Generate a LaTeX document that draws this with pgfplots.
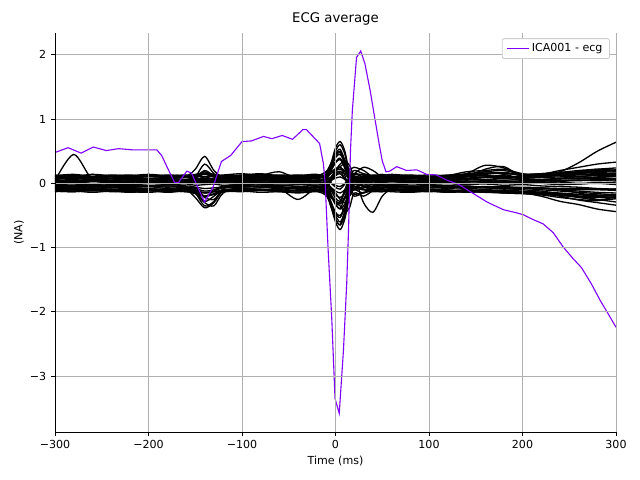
\documentclass[border=0pt]{standalone}
\usepackage{fontspec}
\setmainfont{DejaVu Sans}
\usepackage{pgfplots}
\usepackage{pgfplotstable}
\pgfplotsset{compat=1.18}
\definecolor{ecg}{HTML}{8000FF}
\definecolor{gridc}{HTML}{B0B0B0}
\definecolor{legc}{HTML}{CCCCCC}

\pgfplotstableread{
t c1 c2 c3 c4 c5 c6 c7 c8 c9 c10 c11 c12 c13 c14 c15 c16 c17 c18 c19 c20
-300 0.04 -0.08 0.1 -0.05 0.03 -0.1 0.07 -0.03 0.0 0.12 -0.12 0.06 -0.07 0.02 0.09 -0.02 0.04 -0.09 0.01 -0.04
-280 0.45 -0.1 0.12 -0.06 0.05 -0.12 0.09 -0.05 0.02 0.14 -0.13 0.04 -0.06 0.01 0.1 -0.01 0.03 -0.08 0.03 -0.03
-260 0.06 -0.07 0.09 -0.04 0.14 -0.1 0.06 -0.02 -0.01 0.11 -0.11 0.07 -0.08 0.03 0.08 -0.03 0.05 -0.1 0.0 -0.05
-240 0.05 -0.09 0.11 -0.06 0.04 -0.11 0.08 -0.04 0.01 0.13 -0.12 0.05 -0.06 0.02 0.1 -0.02 0.04 -0.09 0.02 -0.04
-220 0.08 -0.08 0.1 -0.05 0.02 -0.09 0.1 -0.03 0.0 0.12 -0.14 0.06 -0.07 0.04 0.09 -0.01 0.03 -0.11 0.01 -0.03
-200 0.05 -0.1 0.12 -0.04 0.04 -0.11 0.07 -0.05 0.02 0.14 -0.12 0.04 -0.08 0.02 0.11 -0.03 0.05 -0.09 0.0 -0.05
-180 0.06 -0.09 0.1 -0.06 0.03 -0.13 0.08 -0.02 -0.01 0.12 -0.11 0.07 -0.1 0.01 0.09 -0.02 0.04 -0.12 0.02 -0.04
-160 0.04 -0.1 0.11 -0.05 0.05 -0.1 0.06 -0.04 0.01 0.13 -0.13 0.05 -0.07 0.03 0.1 -0.01 0.03 -0.08 0.01 -0.06
-150 0.05 -0.22 0.22 -0.15 0.1 -0.12 0.08 -0.06 0.0 0.12 -0.12 0.06 -0.06 0.02 0.09 -0.03 0.05 -0.1 0.03 -0.15
-140 0.06 -0.38 0.42 -0.3 0.3 -0.28 0.15 -0.2 0.05 0.14 -0.15 0.04 -0.08 0.03 0.2 -0.02 0.1 -0.22 0.0 -0.35
-130 0.05 -0.3 0.2 -0.35 0.15 -0.2 0.1 -0.12 0.02 0.12 -0.13 0.06 -0.07 0.01 0.12 -0.01 0.06 -0.25 0.02 -0.28
-120 0.07 -0.12 0.1 -0.15 0.04 -0.1 0.07 -0.04 0.0 0.13 -0.12 0.05 -0.06 0.02 0.09 -0.03 0.04 -0.12 0.01 -0.08
-100 0.05 -0.08 0.12 -0.05 0.06 -0.11 0.1 -0.03 0.01 0.15 -0.13 0.07 -0.08 0.03 0.08 -0.02 0.03 -0.09 0.0 -0.05
-80 0.06 -0.1 0.1 -0.06 0.12 -0.09 0.14 -0.05 -0.01 0.12 -0.11 0.05 -0.07 0.02 0.1 -0.01 0.05 -0.1 0.02 -0.04
-60 0.04 -0.09 0.11 -0.08 0.18 -0.12 0.08 -0.04 0.02 0.13 -0.12 0.06 -0.06 0.01 0.09 -0.03 0.04 -0.08 0.01 -0.03
-40 0.06 -0.08 0.1 -0.25 0.06 -0.1 0.07 -0.02 0.0 0.12 -0.14 0.05 -0.08 0.03 0.11 -0.02 0.03 -0.12 0.0 -0.05
-20 0.05 -0.1 0.12 -0.06 0.03 -0.11 0.09 -0.04 0.01 0.14 -0.12 0.07 -0.07 0.02 0.09 -0.01 0.05 -0.09 0.02 -0.04
-10 0.1 -0.15 0.18 -0.1 0.08 -0.14 0.12 -0.06 0.02 0.05 -0.08 0.03 -0.05 0.0 0.1 -0.03 0.06 -0.12 0.08 -0.1
-5 0.3 -0.35 0.3 -0.3 0.22 -0.28 0.2 -0.18 0.08 -0.15 0.05 -0.08 0.03 -0.06 0.15 -0.08 0.1 -0.2 0.25 -0.32
0 0.55 -0.6 0.45 -0.5 0.4 -0.45 0.32 -0.32 0.18 -0.32 0.2 -0.18 0.12 -0.12 0.2 -0.15 0.2 -0.3 0.5 -0.55
5 0.65 -0.72 0.5 -0.6 0.45 -0.5 0.38 -0.4 0.26 -0.28 0.25 -0.22 0.18 -0.15 0.22 -0.25 0.3 -0.35 0.6 -0.65
10 0.5 -0.55 0.35 -0.45 0.3 -0.35 0.3 -0.32 0.3 -0.1 0.12 -0.15 0.15 -0.1 0.18 -0.3 0.35 -0.45 0.45 -0.5
15 0.15 -0.2 0.1 -0.15 0.05 -0.05 0.22 -0.2 0.2 0.1 -0.1 0.0 0.05 -0.02 0.12 -0.15 0.28 -0.38 0.12 -0.18
20 -0.05 0.05 0.05 0.05 -0.1 0.1 0.25 -0.1 0.08 0.2 -0.2 0.1 -0.05 0.05 0.15 -0.02 0.12 -0.15 -0.08 0.0
30 0.02 0.0 0.12 -0.05 0.05 -0.3 0.2 -0.15 0.15 0.15 -0.15 0.08 -0.1 0.06 0.25 0.05 0.02 -0.2 0.0 -0.05
40 0.08 -0.06 0.1 -0.1 0.08 -0.45 0.1 -0.06 0.05 0.12 -0.12 0.06 -0.08 0.03 0.2 -0.01 0.04 -0.12 0.02 -0.04
50 0.05 -0.08 0.08 -0.06 0.04 -0.2 0.08 -0.04 0.02 0.14 -0.13 0.05 -0.07 0.02 0.1 -0.02 0.05 -0.1 0.01 -0.03
60 0.06 -0.1 0.1 -0.05 0.03 -0.1 0.07 -0.03 0.0 0.12 -0.11 0.07 -0.06 0.03 0.09 -0.03 0.04 -0.09 0.0 -0.05
80 0.04 -0.08 0.11 -0.04 0.05 -0.11 0.09 -0.05 0.01 0.13 -0.12 0.05 -0.08 0.01 0.1 -0.01 0.03 -0.1 0.02 -0.04
100 0.06 -0.09 0.09 -0.06 0.02 -0.1 0.07 -0.03 -0.01 0.11 -0.13 0.06 -0.07 0.02 0.08 -0.02 0.05 -0.09 0.01 -0.06
120 0.05 -0.1 0.1 -0.05 0.04 -0.12 0.08 -0.04 0.02 0.13 -0.12 0.04 -0.06 0.03 0.12 -0.03 0.04 -0.11 0.0 -0.05
140 0.08 -0.12 0.15 -0.07 0.1 -0.11 0.12 -0.06 0.03 0.14 -0.14 0.07 -0.08 0.02 0.18 -0.02 0.06 -0.12 0.02 -0.04
160 0.1 -0.1 0.28 -0.06 0.22 -0.13 0.18 -0.05 0.02 0.16 -0.13 0.06 -0.07 0.04 0.2 -0.01 0.1 -0.1 0.03 -0.06
180 0.08 -0.14 0.24 -0.08 0.26 -0.12 0.14 -0.06 0.04 0.15 -0.15 0.08 -0.09 0.03 0.22 -0.03 0.12 -0.11 0.01 -0.05
200 0.1 -0.15 0.12 -0.1 0.1 -0.14 0.08 -0.08 0.01 0.14 -0.16 0.05 -0.08 0.02 0.15 -0.02 0.06 -0.12 0.02 -0.07
220 0.12 -0.2 0.14 -0.12 0.12 -0.16 0.1 -0.07 0.03 0.15 -0.18 0.06 -0.1 0.04 0.12 -0.04 0.05 -0.14 0.0 -0.08
240 0.18 -0.28 0.2 -0.16 0.14 -0.2 0.12 -0.1 0.05 0.17 -0.22 0.08 -0.12 0.03 0.13 -0.05 0.07 -0.18 -0.02 -0.1
260 0.32 -0.33 0.25 -0.2 0.18 -0.26 0.1 -0.12 0.04 0.2 -0.25 0.1 -0.14 0.05 0.15 -0.06 0.08 -0.22 -0.01 -0.15
280 0.5 -0.4 0.3 -0.25 0.22 -0.3 0.14 -0.14 0.06 0.22 -0.27 0.09 -0.16 0.04 0.18 -0.08 0.1 -0.26 0.0 -0.2
300 0.64 -0.44 0.33 -0.29 0.2 -0.34 0.16 -0.15 0.05 0.24 -0.2 0.11 -0.18 0.06 0.2 -0.09 0.12 -0.24 -0.02 -0.22
}\compsA

\pgfplotstableread{
t d1 d2 d3 d4 d5 d6 d7 d8 d9 d10 d11 d12 d13 d14 d15 d16
-300 0.13 -0.13 0.11 -0.11 0.09 -0.06 0.07 -0.01 0.03 -0.05 0.1 -0.12 0.0 0.08 -0.09 0.05
-280 0.11 -0.12 0.13 -0.1 0.07 -0.08 0.09 0.01 0.02 -0.04 0.12 -0.13 0.02 0.06 -0.1 0.04
-260 0.14 -0.14 0.1 -0.12 0.1 -0.05 0.06 -0.02 0.04 -0.06 0.09 -0.11 -0.01 0.09 -0.08 0.06
-240 0.12 -0.12 0.12 -0.1 0.08 -0.07 0.08 0.0 0.02 -0.04 0.11 -0.13 0.01 0.07 -0.1 0.04
-220 0.13 -0.13 0.1 -0.12 0.1 -0.06 0.06 -0.02 0.04 -0.06 0.1 -0.12 -0.01 0.09 -0.09 0.06
-200 0.11 -0.14 0.12 -0.11 0.08 -0.05 0.08 0.0 0.03 -0.05 0.12 -0.11 0.01 0.07 -0.08 0.05
-180 0.13 -0.12 0.11 -0.13 0.09 -0.08 0.07 -0.01 0.02 -0.04 0.1 -0.14 0.0 0.08 -0.1 0.04
-160 0.12 -0.13 0.1 -0.1 0.1 -0.06 0.06 0.01 0.04 -0.06 0.11 -0.12 0.02 0.06 -0.09 0.06
-150 0.14 -0.16 0.12 -0.12 0.12 -0.1 0.08 0.0 0.03 -0.08 0.12 -0.15 0.0 0.1 -0.14 0.05
-140 0.16 -0.2 0.1 -0.14 0.18 -0.15 0.07 0.02 0.01 -0.12 0.15 -0.2 0.03 0.14 -0.2 0.03
-130 0.14 -0.17 0.12 -0.13 0.12 -0.12 0.08 -0.01 0.02 -0.1 0.12 -0.17 0.01 0.1 -0.16 0.05
-120 0.12 -0.13 0.11 -0.11 0.09 -0.07 0.07 0.0 0.03 -0.05 0.1 -0.13 0.0 0.08 -0.1 0.05
-100 0.13 -0.12 0.12 -0.12 0.1 -0.06 0.09 -0.02 0.04 -0.06 0.11 -0.12 0.01 0.07 -0.09 0.06
-80 0.15 -0.14 0.1 -0.1 0.08 -0.05 0.07 0.01 0.02 -0.04 0.13 -0.11 -0.01 0.09 -0.1 0.04
-60 0.12 -0.13 0.11 -0.12 0.1 -0.07 0.08 -0.01 0.03 -0.05 0.1 -0.13 0.0 0.08 -0.11 0.05
-40 0.13 -0.15 0.12 -0.11 0.09 -0.06 0.06 0.0 0.04 -0.07 0.12 -0.14 0.01 0.07 -0.12 0.06
-20 0.12 -0.13 0.1 -0.12 0.1 -0.07 0.08 -0.01 0.02 -0.05 0.11 -0.12 0.0 0.09 -0.1 0.04
-10 0.18 -0.19 0.08 -0.06 0.13 -0.1 0.02 0.05 -0.04 -0.02 0.12 -0.15 0.02 0.15 -0.17 0.04
-5 0.3 -0.33 0.01 0.04 0.23 -0.18 -0.1 0.19 -0.18 0.05 0.17 -0.22 0.05 0.3 -0.36 0.0
0 0.43 -0.47 -0.06 0.15 0.33 -0.27 -0.23 0.33 -0.33 0.12 0.23 -0.29 0.08 0.46 -0.56 -0.03
5 0.48 -0.53 -0.09 0.19 0.37 -0.31 -0.28 0.39 -0.39 0.15 0.25 -0.32 0.1 0.53 -0.64 -0.05
10 0.34 -0.37 -0.01 0.07 0.26 -0.21 -0.14 0.23 -0.22 0.07 0.19 -0.24 0.06 0.35 -0.42 0.0
15 0.17 -0.17 0.09 -0.08 0.12 -0.09 0.03 0.03 -0.01 -0.03 0.12 -0.14 0.01 0.13 -0.15 0.04
20 0.06 -0.05 0.15 -0.17 0.03 -0.01 0.14 -0.09 0.11 -0.09 0.07 -0.08 -0.02 -0.01 0.02 0.07
30 0.1 -0.09 0.13 -0.14 0.06 -0.04 0.1 -0.05 0.07 -0.07 0.09 -0.1 -0.01 0.04 -0.04 0.06
40 0.13 -0.13 0.11 -0.11 0.09 -0.06 0.07 -0.01 0.03 -0.05 0.1 -0.12 0.0 0.08 -0.09 0.05
50 0.12 -0.12 0.12 -0.12 0.08 -0.07 0.08 0.0 0.02 -0.04 0.11 -0.13 0.01 0.07 -0.1 0.04
60 0.14 -0.13 0.1 -0.1 0.1 -0.05 0.06 -0.02 0.04 -0.06 0.1 -0.11 -0.01 0.09 -0.08 0.06
80 0.12 -0.14 0.12 -0.12 0.08 -0.07 0.08 0.01 0.03 -0.05 0.12 -0.13 0.01 0.07 -0.1 0.05
100 0.13 -0.12 0.11 -0.1 0.1 -0.06 0.07 -0.01 0.02 -0.04 0.1 -0.12 0.0 0.08 -0.09 0.04
120 0.12 -0.14 0.1 -0.12 0.09 -0.08 0.08 0.0 0.04 -0.06 0.11 -0.14 0.02 0.09 -0.11 0.06
140 0.15 -0.13 0.12 -0.11 0.11 -0.06 0.07 -0.02 0.03 -0.05 0.13 -0.12 0.0 0.1 -0.1 0.05
160 0.18 -0.14 0.14 -0.12 0.12 -0.07 0.09 0.01 0.04 -0.06 0.15 -0.13 0.01 0.12 -0.11 0.06
180 0.2 -0.15 0.16 -0.13 0.1 -0.08 0.1 0.0 0.03 -0.07 0.17 -0.14 0.02 0.1 -0.12 0.05
200 0.14 -0.16 0.12 -0.14 0.11 -0.07 0.08 -0.01 0.04 -0.06 0.13 -0.15 0.0 0.09 -0.13 0.06
220 0.15 -0.17 0.13 -0.15 0.12 -0.08 0.09 0.01 0.05 -0.07 0.14 -0.16 0.01 0.11 -0.14 0.06
240 0.17 -0.19 0.15 -0.16 0.13 -0.09 0.1 0.0 0.04 -0.08 0.16 -0.18 0.02 0.12 -0.15 0.07
260 0.18 -0.21 0.16 -0.18 0.14 -0.1 0.11 -0.01 0.05 -0.08 0.17 -0.2 0.0 0.13 -0.17 0.07
280 0.2 -0.22 0.17 -0.19 0.15 -0.1 0.12 0.01 0.05 -0.09 0.19 -0.21 0.01 0.14 -0.18 0.08
300 0.21 -0.23 0.18 -0.2 0.15 -0.11 0.13 0.0 0.06 -0.09 0.2 -0.22 0.02 0.14 -0.19 0.08
}\compsB

\begin{document}
\begin{tikzpicture}
\begin{axis}[
  scale only axis, width=5.61in, height=3.99in,
  xmin=-300, xmax=300, ymin=-3.87, ymax=2.34,
  axis x line*=bottom, axis y line*=left,
  axis line style={line width=0.64pt, black},
  xtick={-300,-200,-100,0,100,200,300},
  xticklabels={−300,−200,−100,0,100,200,300},
  ytick={-3,-2,-1,0,1,2},
  yticklabels={−3,−2,−1,0,1,2},
  tick align=outside, major tick length=2.8pt,
  tick style={line width=0.64pt, black},
  grid=major, grid style={gridc, line width=0.64pt},
  tick label style={font=\fontsize{8}{9.6}\selectfont},
  /pgf/number format/assume math mode=true,
  label style={font=\fontsize{8}{9.6}\selectfont},
  title={ECG average},
  title style={font=\fontsize{9.6}{11.5}\selectfont, at={(axis description cs:0.5,1)}, anchor=center, yshift=4.1pt},
  xlabel={Time (ms)},
  xlabel style={at={(axis description cs:0.5,0)}, anchor=center, yshift=-0.29in},
  ylabel={(NA)},
  ylabel style={at={(axis description cs:0,0.5)}, anchor=center, yshift=0.36in},
  axis on top,
  legend style={at={(0.989,0.987)}, anchor=north east, draw=legc, line width=0.6pt,
    rounded corners=1.5pt, font=\fontsize{8}{9.6}\selectfont, inner xsep=3pt, inner ysep=1.5pt},
  legend cell align=left,
  legend image code/.code={\draw[#1] (0cm,0cm) -- (0.55cm,0cm);},
]
\pgfplotsinvokeforeach{1,...,16}{
  \addplot[black, line width=0.95pt, smooth, forget plot] table[x=t, y=d#1]{\compsB};
}
\pgfplotsinvokeforeach{1,...,20}{
  \addplot[black, line width=0.95pt, smooth, forget plot] table[x=t, y=c#1]{\compsA};
}
\addplot[ecg, line width=0.8pt, on layer=axis foreground] coordinates {
(-300,0.48) (-286,0.555) (-272,0.47) (-259,0.565) (-245,0.51) (-232,0.54) (-216,0.52)
(-200,0.52) (-191,0.52) (-186,0.435) (-179,0.22) (-172,0.01) (-168,0.01) (-159,0.19)
(-154,0.16) (-147,-0.07) (-140,-0.29) (-131,-0.06) (-122,0.34) (-112,0.435) (-100,0.65)
(-90,0.66) (-77,0.73) (-68,0.695) (-57,0.745) (-46,0.685) (-35,0.835) (-31,0.835)
(-17,0.62) (-13,0.31) (-11,0.0) (-8,-1.0) (-4,-2.1) (-0.5,-3.35) (4,-3.58) (8.5,-2.6)
(12,-1.56) (14,-0.7) (16,0.5) (18,1.13) (22.5,1.96) (27,2.06) (31.5,1.86) (37,1.45)
(46,0.67) (50,0.35) (54,0.18) (58,0.19) (65.5,0.26) (76,0.2) (87,0.21) (97.5,0.14)
(108,0.13) (119,0.05) (131.5,-0.015) (147.5,-0.16) (162,-0.29) (179.5,-0.41) (194,-0.46)
(201,-0.49) (211.5,-0.565) (222,-0.63) (233,-0.77) (243.5,-0.99) (254,-1.17) (263,-1.31)
(273.5,-1.56) (283,-1.82) (292,-2.04) (300,-2.24)
};
\addlegendentry{ICA001 - ecg}
\coordinate (sw) at (rel axis cs:0,0);
\coordinate (ne) at (rel axis cs:1,1);
\end{axis}
\pgfresetboundingbox
\path ([shift={(-0.55in,-0.48in)}]sw) rectangle ([shift={(0.24in,0.33in)}]ne);
\end{tikzpicture}
\end{document}
